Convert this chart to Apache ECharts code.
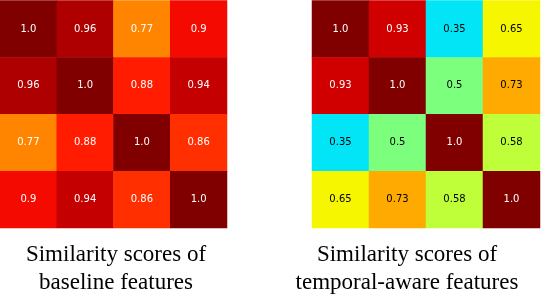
<!DOCTYPE html>
<html>
<head>
<meta charset="utf-8">
<script src="https://cdn.jsdelivr.net/npm/echarts@6/dist/echarts.min.js"></script>
<style>html,body{margin:0;padding:0;background:#fff}#c{width:544px;height:296px}</style>
</head>
<body>
<div id="c"></div>
<script>
// ---- data ----
const rows = ['0', '1', '2', '3'];
const cols = ['0', '1', '2', '3'];
const baselineScores = [
  [1.0, 0.96, 0.77, 0.9],
  [0.96, 1.0, 0.88, 0.94],
  [0.77, 0.88, 1.0, 0.86],
  [0.9, 0.94, 0.86, 1.0]
];
const temporalScores = [
  [1.0, 0.93, 0.35, 0.65],
  [0.93, 1.0, 0.5, 0.73],
  [0.35, 0.5, 1.0, 0.58],
  [0.65, 0.73, 0.58, 1.0]
];
const captionLeft = 'Similarity scores of\nbaseline features';
const captionRight = 'Similarity scores of\ntemporal-aware features';

// ---- jet colormap (style) ----
function seg(pts, x) {
  for (let i = 1; i < pts.length; i++) {
    if (x <= pts[i][0]) {
      const a = pts[i - 1], b = pts[i];
      return a[1] + (b[1] - a[1]) * (x - a[0]) / (b[0] - a[0]);
    }
  }
  return pts[pts.length - 1][1];
}
const R = [[0, 0], [0.35, 0], [0.66, 1], [0.89, 1], [1, 0.5]];
const G = [[0, 0], [0.125, 0], [0.375, 1], [0.64, 1], [0.91, 0], [1, 0]];
const B = [[0, 0.5], [0.11, 1], [0.34, 1], [0.65, 0], [1, 0]];
const jet = [];
for (let i = 0; i < 256; i++) {
  const x = i / 255;
  const c = [seg(R, x), seg(G, x), seg(B, x)].map(v => Math.round(v * 255));
  jet.push('rgb(' + c.join(',') + ')');
}

function buildData(m, thr) {
  const out = [];
  m.forEach((row, r) => row.forEach((v, c) => {
    out.push({ value: [c, r, v], label: { color: v > thr ? '#ffffff' : '#000000' } });
  }));
  return out;
}

const chart = echarts.init(document.getElementById('c'), null, { renderer: 'canvas' });
const hiddenAxis = (type, idx, inv) => ({
  type: 'category', gridIndex: idx, data: type === 'x' ? cols : rows, inverse: !!inv,
  show: false, axisLine: { show: false }, axisTick: { show: false }, splitLine: { show: false }
});
const labelStyle = {
  show: true, fontFamily: 'DejaVu Sans', fontSize: 10,
  formatter: p => { const v = p.value[2]; return Number.isInteger(v) ? v.toFixed(1) : String(v); }
};
chart.setOption({
  animation: false,
  backgroundColor: '#ffffff',
  title: [
    { text: captionLeft, left: 116, top: 241, textAlign: 'center', padding: 0,
      textStyle: { fontFamily: 'Liberation Serif', fontSize: 23, fontWeight: 'normal', color: '#000', lineHeight: 28 } },
    { text: captionRight, left: 407, top: 241, textAlign: 'center', padding: 0,
      textStyle: { fontFamily: 'Liberation Serif', fontSize: 23, fontWeight: 'normal', color: '#000', lineHeight: 28 } }
  ],
  grid: [
    { left: 0, top: 0.5, width: 227, height: 227.5 },
    { left: 312, top: 0.5, width: 228, height: 227.5 }
  ],
  xAxis: [hiddenAxis('x', 0), hiddenAxis('x', 1)],
  yAxis: [hiddenAxis('y', 0, true), hiddenAxis('y', 1, true)],
  visualMap: {
    show: false, type: 'continuous', min: 0, max: 1, dimension: 2,
    seriesIndex: [0, 1], inRange: { color: jet }
  },
  series: [
    { type: 'heatmap', xAxisIndex: 0, yAxisIndex: 0, data: buildData(baselineScores, 0.7), label: labelStyle, itemStyle: { borderWidth: 0 } },
    { type: 'heatmap', xAxisIndex: 1, yAxisIndex: 1, data: buildData(temporalScores, 0.8), label: labelStyle, itemStyle: { borderWidth: 0 } }
  ]
});
</script>
</body>
</html>
